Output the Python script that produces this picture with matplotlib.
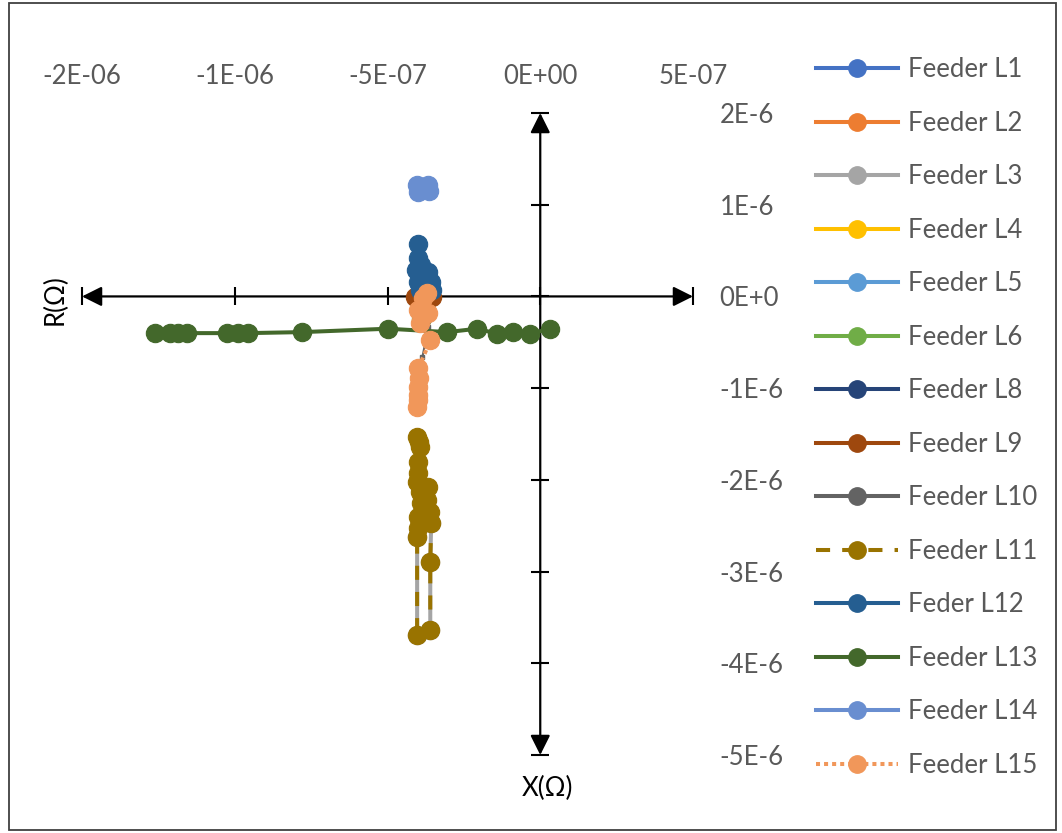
import matplotlib
matplotlib.use("Agg")
import matplotlib.pyplot as plt
from matplotlib.lines import Line2D
from matplotlib.patches import Rectangle

# ---- data (values in micro-ohm units, scaled by 1e-6 when plotted) ----
U = 1e-6

x_L1 = [-0.376, -0.386]; y_L1 = [-0.098, -0.240]
x_L2 = [-0.380, -0.390]; y_L2 = [-0.060, -0.200]
x_L4 = [-0.378, -0.388]; y_L4 = [-0.120, -0.230]
x_L5 = [-0.382, -0.384]; y_L5 = [-0.090, -0.210]
x_L6 = [-0.377, -0.389]; y_L6 = [-0.110, -0.250]
x_L8 = [-0.381, -0.387]; y_L8 = [-0.080, -0.220]

x_L9 = [-0.409, -0.354]
y_L9 = [-0.011, -0.011]

x_L10 = [-0.367, -0.376, -0.386]
y_L10 = [-0.338, -0.500, -0.665]

x_L11 = [-0.403, -0.397, -0.393, -0.399, -0.401, -0.403, -0.393, -0.389, -0.386,
         -0.399, -0.401, -0.403, -0.403,
         -0.360, -0.360, -0.357, -0.362, -0.370, -0.367]
y_L11 = [-1.538, -1.590, -1.647, -1.810, -1.920, -2.028, -2.137, -2.250, -2.356,
         -2.410, -2.520, -2.628, -3.697,
         -3.642, -2.901, -2.475, -2.350, -2.225, -2.083]

x_L3 = [-0.403, -0.403, -0.360, -0.360, -0.357]
y_L3 = [-2.628, -3.697, -3.642, -2.901, -2.475]

x_L12 = [-0.399, -0.399, -0.406, -0.390, -0.367, -0.357, -0.399, -0.380, -0.393, -0.354]
y_L12 = [0.567, 0.414, 0.284, 0.340, 0.262, 0.153, 0.153, 0.180, 0.065, 0.065]

x_L13 = [-1.260, -1.211, -1.185, -1.155, -1.025, -0.989, -0.957, -0.779, -0.498,
         -0.304, -0.206, -0.141, -0.088, -0.033, 0.033]
y_L13 = [-0.400, -0.400, -0.400, -0.400, -0.400, -0.400, -0.400, -0.389, -0.352,
         -0.389, -0.352, -0.407, -0.389, -0.407, -0.352]

x_L14 = [-0.403, -0.367, -0.399, -0.363]
y_L14 = [1.210, 1.210, 1.134, 1.145]

x_L15 = [-0.371, -0.383, -0.399, -0.367, -0.393, -0.360, -0.399, -0.396, -0.399,
         -0.401, -0.399, -0.403]
y_L15 = [0.033, -0.022, -0.153, -0.185, -0.294, -0.480, -0.785, -0.894, -0.992,
         -1.080, -1.134, -1.210]

x_ticks = [-1.5e-6, -1e-6, -5e-7, 0.0, 5e-7]
x_tick_labels = ["-2E-06", "-1E-06", "-5E-07", "0E+00", "5E-07"]
y_ticks = [2e-6, 1e-6, 0.0, -1e-6, -2e-6, -3e-6, -4e-6, -5e-6]
y_tick_labels = ["2E-6", "1E-6", "0E+0", "-1E-6", "-2E-6", "-3E-6", "-4E-6", "-5E-6"]

# (label, x, y, colour, linestyle)
series = [
    ("Feeder L1", x_L1, y_L1, "#4472C4", "-"),
    ("Feeder L2", x_L2, y_L2, "#ED7D31", "-"),
    ("Feeder L3", x_L3, y_L3, "#A5A5A5", "-"),
    ("Feeder L4", x_L4, y_L4, "#FFC000", "-"),
    ("Feeder L5", x_L5, y_L5, "#5B9BD5", "-"),
    ("Feeder L6", x_L6, y_L6, "#70AD47", "-"),
    ("Feeder L8", x_L8, y_L8, "#264478", "-"),
    ("Feeder L9", x_L9, y_L9, "#9E480E", "-"),
    ("Feeder L10", x_L10, y_L10, "#636363", "-"),
    ("Feeder L11", x_L11, y_L11, "#997300", (0, (3.5, 3))),
    ("Feder L12", x_L12, y_L12, "#255E91", "-"),
    ("Feeder L13", x_L13, y_L13, "#43682B", "-"),
    ("Feeder L14", x_L14, y_L14, "#698ED0", "-"),
    ("Feeder L15", x_L15, y_L15, "#F1975A", (0, (1, 1))),
]

plt.rcParams["font.family"] = ["Lato", "DejaVu Sans"]

W, H = 1062, 833
fig = plt.figure(figsize=(W / 100, H / 100), dpi=100)

def fx(px):
    return px / W

def fy(py):
    return 1 - py / H

FS = 18.5
left, right, top, bottom = 82, 693, 113, 755
ax = fig.add_axes([fx(left), fy(bottom), fx(right - left), (bottom - top) / H])
ax.set_xlim(-1.5e-6, 5e-7)
ax.set_ylim(-5e-6, 2e-6)
for s in ax.spines.values():
    s.set_visible(False)
ax.patch.set_alpha(0)

# tick labels: x on top, y on the right
ax.xaxis.tick_top()
ax.yaxis.tick_right()
ax.set_xticks(x_ticks)
ax.set_xticklabels(x_tick_labels)
ax.set_yticks(y_ticks)
ax.set_yticklabels(y_tick_labels)
ax.tick_params(axis="x", length=0, pad=17, labelsize=FS, labelcolor="#595959")
ax.tick_params(axis="y", length=0, pad=19, labelsize=FS, labelcolor="#595959")
for lbl in ax.get_yticklabels():
    lbl.set_horizontalalignment("left")

# axis lines with arrow heads at both ends
arrow = dict(arrowstyle="<|-|>,head_length=0.6,head_width=0.3", color="black",
             lw=1.6, mutation_scale=20, shrinkA=0, shrinkB=0)
ax.annotate("", xy=(5e-7, 0), xytext=(-1.5e-6, 0), arrowprops=arrow,
            annotation_clip=False, zorder=1)
ax.annotate("", xy=(0, 2e-6), xytext=(0, -5e-6), arrowprops=arrow,
            annotation_clip=False, zorder=1)

# cross tick marks on the axis lines
ax.plot(x_ticks, [0] * len(x_ticks), ls="none", marker="|", ms=13, mew=1.5,
        color="black", clip_on=False, zorder=1)
ax.plot([0] * len(y_ticks), y_ticks, ls="none", marker="_", ms=13, mew=1.5,
        color="black", clip_on=False, zorder=1)

MS = 13.2
LW = 2.9
handles = []
for i, (name, xs, ys, col, ls) in enumerate(series):
    xv = [v * U for v in xs]
    yv = [v * U for v in ys]
    if name == "Feeder L10":
        ax.plot(xv, yv, color=col, lw=1.5, ls="-", marker="s", ms=3,
                zorder=2 + i, clip_on=False)
    else:
        ax.plot(xv, yv, color=col, lw=LW, ls=ls, marker="o", ms=MS, mew=0.8,
                mec=col, mfc=col, zorder=2 + i, clip_on=False,
                dash_capstyle="butt")
    handles.append(Line2D([], [], color=col, lw=LW, ls=ls, marker="o", ms=12.5,
                          mec=col, mfc=col, dash_capstyle="butt"))

labels = [s[0] for s in series]
fig.legend(handles, labels, loc="upper left", bbox_to_anchor=(fx(816), fy(57)),
           frameon=False, fontsize=FS, handlelength=3.2, handletextpad=0.4,
           labelspacing=1.11, borderpad=0, borderaxespad=0, labelcolor="#595959")

# axis titles
fig.text(fx(55), fy(300), "R(Ω)", rotation=90, ha="center", va="center",
         fontsize=FS, color="black")
fig.text(fx(547), fy(788), "X(Ω)", ha="center", va="center", fontsize=FS,
         color="black")

# chart frame
fig.patches.append(Rectangle((fx(9), fy(830)), fx(1056 - 9), (830 - 3) / H,
                             transform=fig.transFigure, fill=False,
                             edgecolor="#404040", lw=1.3))

fig.savefig("out.png", dpi=100)
